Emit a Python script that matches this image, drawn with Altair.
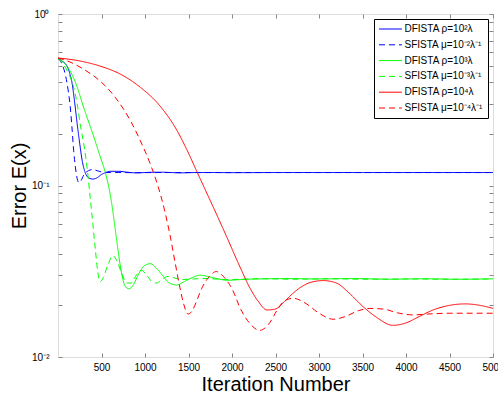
import altair as alt
import pandas as pd

series_names = ["DFISTA ρ=10²λ", "SFISTA μ=10⁻²λ⁻¹",
                "DFISTA ρ=10³λ", "SFISTA μ=10⁻³λ⁻¹",
                "DFISTA ρ=10⁴λ", "SFISTA μ=10⁻⁴λ⁻¹"]
series_colors = ["#0000ff", "#0000ff", "#00ff00", "#00ff00", "#ff0000", "#ff0000"]
series_dashes = [[1, 0], [6, 4], [1, 0], [6, 4], [1, 0], [6, 4]]

# DFISTA rho=10^2 lambda (blue solid)
it_b1 = [0, 50, 100, 130, 160, 190, 220, 250, 280, 310, 350, 400, 450, 500, 550, 600, 700,
         800, 900, 1000, 1100, 1200, 1300, 1400, 1600, 1800, 2000, 2500, 3000, 3500, 4000, 4500, 5000]
er_b1 = [0.55, 0.53, 0.50, 0.46, 0.40, 0.31, 0.23, 0.175, 0.138, 0.12, 0.111, 0.109, 0.111, 0.116,
         0.119, 0.121, 0.121, 0.1195, 0.1185, 0.119, 0.1195, 0.1195, 0.119, 0.1185, 0.119, 0.119,
         0.1188, 0.119, 0.119, 0.119, 0.119, 0.119, 0.119]
# SFISTA mu=10^-2 lambda^-1 (blue dashed)
it_b2 = [0, 30, 60, 90, 120, 140, 160, 180, 200, 220, 240, 265, 300, 350, 400, 450, 500, 600,
         700, 900, 1200, 1600, 2000, 2500, 3000, 3500, 4000, 4500, 5000]
er_b2 = [0.55, 0.53, 0.49, 0.43, 0.35, 0.29, 0.22, 0.16, 0.128, 0.11, 0.104, 0.107, 0.116, 0.122,
         0.124, 0.122, 0.120, 0.119, 0.119, 0.1188, 0.119, 0.119, 0.119, 0.119, 0.119, 0.119,
         0.119, 0.119, 0.119]
# DFISTA rho=10^3 lambda (green solid)
it_g1 = [0, 100, 200, 300, 400, 480, 540, 580, 620, 655, 690, 730, 770, 810, 860, 920, 990, 1060,
         1130, 1200, 1280, 1365, 1450, 1540, 1630, 1720, 1820, 1950, 2100, 2300, 2600, 3000, 3400,
         3800, 4200, 4600, 5000]
er_g1 = [0.55, 0.50, 0.40, 0.28, 0.20, 0.15, 0.121, 0.10, 0.077, 0.057, 0.042, 0.031, 0.026, 0.025,
         0.026, 0.030, 0.034, 0.035, 0.033, 0.030, 0.027, 0.0263, 0.0275, 0.029, 0.030, 0.0295,
         0.0287, 0.028, 0.0283, 0.0285, 0.0287, 0.0285, 0.0287, 0.0284, 0.0286, 0.0284, 0.0286]
# SFISTA mu=10^-3 lambda^-1 (green dashed)
it_g2 = [0, 60, 120, 170, 220, 260, 300, 340, 370, 400, 430, 455, 485, 520, 570, 630, 680, 730,
         790, 840, 900, 960, 1020, 1080, 1134, 1200, 1265, 1330, 1420, 1550, 1700, 1850, 2000, 2300,
         2700, 3100, 3500, 4000, 4500, 5000]
er_g2 = [0.55, 0.51, 0.45, 0.39, 0.30, 0.22, 0.17, 0.12, 0.085, 0.06, 0.042, 0.032, 0.0275, 0.029,
         0.034, 0.039, 0.036, 0.031, 0.027, 0.027, 0.030, 0.032, 0.030, 0.0275, 0.027, 0.0285,
         0.0295, 0.029, 0.0283, 0.0285, 0.0287, 0.0284, 0.0283, 0.0286, 0.0284, 0.0286, 0.0284,
         0.0285, 0.0284, 0.0285]
# DFISTA rho=10^4 lambda (red solid)
it_r1 = [0, 253, 483, 713, 943, 1172, 1345, 1483, 1598, 1747, 1920, 2092, 2207, 2299, 2402, 2494,
         2600, 2700, 2800, 2900, 3050, 3200, 3350, 3500, 3650, 3850, 4000, 4150, 4300, 4500, 4680,
         4850, 5000]
er_r1 = [0.554, 0.532, 0.497, 0.447, 0.375, 0.291, 0.219, 0.161, 0.12, 0.0823, 0.0528, 0.0335,
         0.0252, 0.0212, 0.0188, 0.0190, 0.0210, 0.0235, 0.0257, 0.0272, 0.0279, 0.027, 0.0235,
         0.0198, 0.0172, 0.0153, 0.0158, 0.0172, 0.0187, 0.0200, 0.0204, 0.0200, 0.0192]
# SFISTA mu=10^-4 lambda^-1 (red dashed)
it_r2 = [0, 138, 310, 483, 655, 828, 943, 1057, 1149, 1230, 1287, 1345, 1402, 1448, 1494, 1540,
         1598, 1650, 1740, 1820, 1900, 2000, 2100, 2200, 2320, 2420, 2520, 2600, 2705, 2850, 3000,
         3165, 3300, 3450, 3585, 3750, 3900, 4080, 4250, 4500, 5000]
er_r2 = [0.554, 0.525, 0.471, 0.407, 0.328, 0.241, 0.184, 0.135, 0.0993, 0.070, 0.0515, 0.0358,
         0.0253, 0.0201, 0.0178, 0.0185, 0.0215, 0.025, 0.0295, 0.0315, 0.0295, 0.025, 0.019,
         0.0158, 0.0143, 0.0155, 0.0188, 0.0212, 0.022, 0.0205, 0.018, 0.0166, 0.0172, 0.0186,
         0.0192, 0.019, 0.0181, 0.0176, 0.0178, 0.018, 0.018]

x_tick_values = [500, 1000, 1500, 2000, 2500, 3000, 3500, 4000, 4500, 5000]
y_tick_values = [0.01, 0.02, 0.03, 0.04, 0.05, 0.06, 0.07, 0.08, 0.09,
                 0.1, 0.2, 0.3, 0.4, 0.5, 0.6, 0.7, 0.8, 0.9, 1]

its = [it_b1, it_b2, it_g1, it_g2, it_r1, it_r2]
ers = [er_b1, er_b2, er_g1, er_g2, er_r1, er_r2]
rows = []
for name, xs, ys in zip(series_names, its, ers):
    for xv, yv in zip(xs, ys):
        rows.append({"series": name, "iter": xv, "err": yv})
df = pd.DataFrame(rows)

FONT = "Liberation Sans"
xscale = alt.Scale(domain=[0, 5000], nice=False, zero=False)
yscale = alt.Scale(type="log", domain=[0.01, 1], nice=False)

ylabel = ("datum.value == 1 ? '10⁰' : (datum.value == 0.1 ? '10⁻¹' : "
          "(datum.value == 0.01 ? '10⁻²' : ''))")

legend = alt.Legend(title=None, orient="top-right", offset=5,
                    strokeColor="black", fillColor="white", padding=5,
                    labelFont=FONT, labelFontSize=10, labelColor="black",
                    symbolType="M-2.55,0L2.55,0", symbolSize=81, symbolStrokeWidth=1,
                    symbolOffset=6.5, labelOffset=9, rowPadding=5.8)

main = alt.Chart(df).mark_line(strokeWidth=1, interpolate="monotone", clip=True).encode(
    x=alt.X("iter:Q", scale=xscale,
            axis=alt.Axis(orient="bottom", values=x_tick_values, format="d", offset=-4,
                          tickSize=4, domain=False, grid=False, labelFlush=False,
                          labelPadding=5, labelFontSize=10,
                          title="Iteration Number", titleFontSize=20, titleFontWeight="normal",
                          titlePadding=2)),
    y=alt.Y("err:Q", scale=yscale,
            axis=alt.Axis(orient="left", values=y_tick_values, labelExpr=ylabel, offset=-4,
                          tickSize=4, domain=False, grid=False, labelFlush=False,
                          labelPadding=9, labelFontSize=10,
                          title="Error E(x)", titleFontSize=20, titleFontWeight="normal",
                          titlePadding=2)),
    color=alt.Color("series:N", scale=alt.Scale(domain=series_names, range=series_colors),
                    legend=legend),
    strokeDash=alt.StrokeDash("series:N",
                              scale=alt.Scale(domain=series_names, range=series_dashes),
                              legend=legend),
    detail="series:N",
)

frame = alt.Chart(df).mark_line(opacity=0).encode(
    x=alt.X("iter:Q", scale=xscale,
            axis=alt.Axis(orient="top", values=x_tick_values, offset=-4, tickSize=4,
                          domain=False, grid=False, labels=False, title=None)),
    y=alt.Y("err:Q", scale=yscale,
            axis=alt.Axis(orient="right", values=y_tick_values, offset=-4, tickSize=4,
                          domain=False, grid=False, labels=False, title=None)),
    detail="series:N",
)

chart = alt.layer(main, frame).resolve_axis(x="independent", y="independent").properties(
    width=435, height=343,
    autosize=alt.AutoSizeParams(type="none"),
    padding={"left": 58, "top": 14, "right": 5, "bottom": 37},
).configure_view(stroke="black", strokeWidth=1).configure_axis(
    labelFont=FONT, titleFont=FONT, labelColor="black", titleColor="black",
    tickColor="black", grid=False,
).configure(background="white")

chart.save("out.html", embed_options={"renderer": "svg", "actions": False})
